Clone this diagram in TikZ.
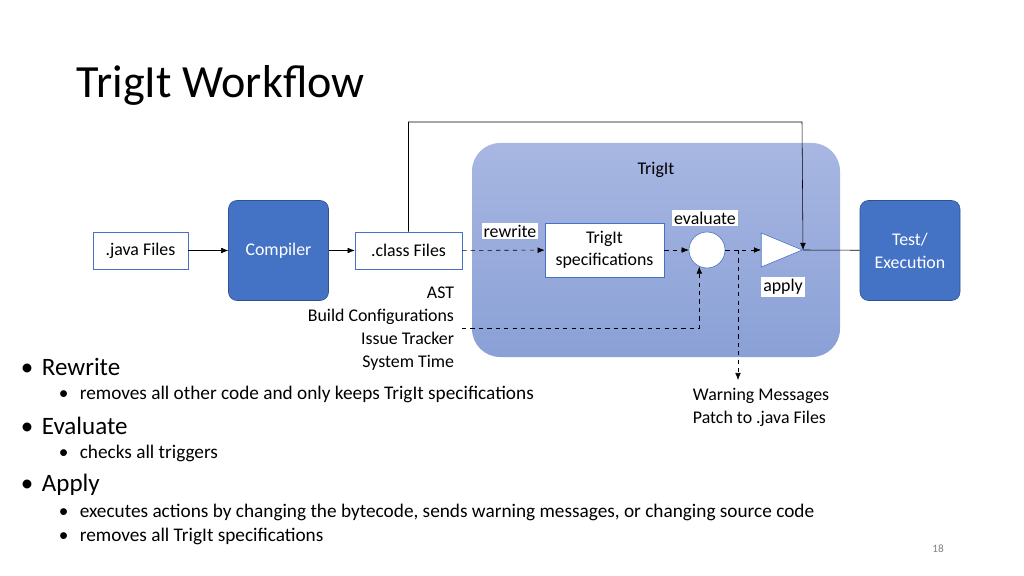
\documentclass[tikz,border=0pt]{standalone}
\usepackage{fontspec}
\setmainfont{Carlito}
\usetikzlibrary{positioning,shapes.geometric,arrows.meta}
\definecolor{trigit_blue}{RGB}{68,114,196}
\definecolor{trigit_edge}{RGB}{47,82,143}
\definecolor{trigit_bgtop}{RGB}{168,183,226}
\definecolor{trigit_bgbot}{RGB}{138,160,214}
\tikzset{
  stage/.style={shape=rectangle,rounded corners=6pt,draw=trigit_edge,fill=trigit_blue,text=white,minimum width=2.5cm,minimum height=2.5cm,align=center,font=\fontsize{12.7}{16.4}\selectfont},
  file/.style={shape=rectangle,draw=trigit_blue,fill=white,align=center,font=\fontsize{12.7}{15}\selectfont},
  tag/.style={fill=white,inner sep=1.5pt,font=\fontsize{12.7}{14}\selectfont},
  note/.style={align=right,font=\fontsize{12.7}{16.4}\selectfont},
  flow/.style={-{Latex[length=5pt,width=4pt]}},
  side/.style={flow,dashed},
}
\begin{document}
\begin{tikzpicture}[x=0.025cm,y=-0.025cm]
    \useasboundingbox (0,0) rectangle (1024,576);
    \node[anchor=west,font=\fontsize{32.8}{38}\selectfont] (title) at (72,85) {TrigIt Workflow};
    \shade[top color=trigit_bgtop,bottom color=trigit_bgbot,rounded corners=20pt] (472,143) rectangle (840,357);
    \node (trigit) at (656,170) {\fontsize{12.7}{14}\selectfont TrigIt};
    \node[file,minimum width=2.375cm,minimum height=0.925cm] (java) at (140.5,250.5) {.java Files};
    \node[stage] (compiler) at (278.5,250.5) {Compiler};
    \node[file,minimum width=2.675cm,minimum height=0.925cm] (class) at (408.5,250.5) {.class Files};
    \node[file,minimum width=2.975cm,minimum height=1.35cm,font=\fontsize{12.7}{16}\selectfont] (spec) at (604.5,250) {TrigIt\\specifications};
    \node[shape=circle,draw=trigit_blue,fill=white,minimum size=0.9cm,inner sep=0pt] (eval) at (707,250) {};
    \node[shape=isosceles triangle,draw=trigit_blue,fill=white,minimum height=0.8cm,minimum width=0.85cm,inner sep=0pt,anchor=apex] (apply) at (803,250) {};
    \node[stage] (test) at (910,250.5) {Test/\\Execution};
    \node[tag] at (705,218) {evaluate};
    \node[tag] at (510,231) {rewrite};
    \node[tag] at (783,287) {apply};
    \node[note,anchor=north east] (inputs) at (459,282) {AST\\Build Configurations\\Issue Tracker\\System Time};
    \node[note,align=left,anchor=north west] (output) at (688,383) {Warning Messages\\Patch to .java Files};
    \coordinate (warn) at (738,380);
    \coordinate (inend) at (462,328);
    % main flow
    \draw[flow] (java) -- (compiler);
    \draw[flow] (compiler) -- (class);
    \draw[side] (class) -- (spec);
    \draw[side] (spec) -- (eval);
    \draw[side] (eval) -- (apply.west);
    \draw (apply.apex) -- (test);
    \draw[flow] (class.north) |- (802,122) -- (apply.apex);
    \draw[side] (738,250) -- (warn);
    \draw[side] (inend) -| (eval.-115);
    % bullets
    \begin{scope}[every node/.style={anchor=west}]
      \node[font=\fontsize{17.8}{20}\selectfont] at (16,367) {\textbullet\hspace{6pt}Rewrite};
      \node[font=\fontsize{13.7}{15}\selectfont] at (54,394) {\textbullet\hspace{8pt}removes all other code and only keeps TrigIt specifications};
      \node[font=\fontsize{17.8}{20}\selectfont] at (16,426) {\textbullet\hspace{6pt}Evaluate};
      \node[font=\fontsize{13.7}{15}\selectfont] at (54,453) {\textbullet\hspace{8pt}checks all triggers};
      \node[font=\fontsize{17.8}{20}\selectfont] at (16,485) {\textbullet\hspace{6pt}Apply};
      \node[font=\fontsize{13.7}{15}\selectfont] at (54,512) {\textbullet\hspace{8pt}executes actions by changing the bytecode, sends warning messages, or changing source code};
      \node[font=\fontsize{13.7}{15}\selectfont] at (54,536) {\textbullet\hspace{8pt}removes all TrigIt specifications};
    \end{scope}
    \node[text=gray,font=\fontsize{8}{10}\selectfont] (page) at (938,549) {18};
\end{tikzpicture}
\end{document}
